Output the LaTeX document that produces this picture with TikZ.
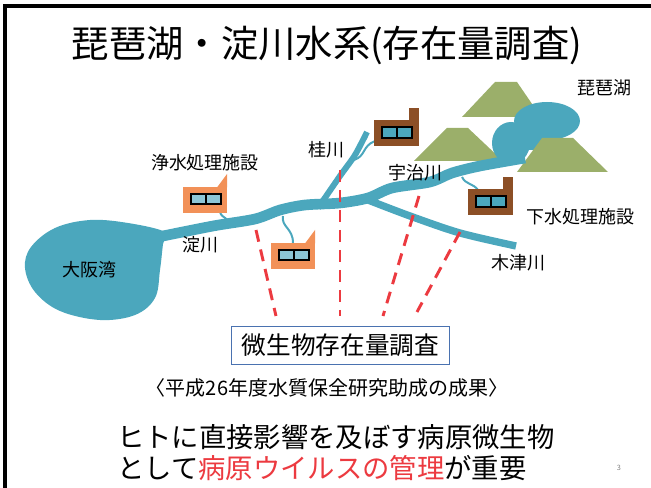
\documentclass[tikz,border=0pt]{standalone}
\usepackage{fontspec}
\setmainfont{Noto Sans CJK JP}
\definecolor{kawa}{HTML}{4BA7BD}
\definecolor{yama}{HTML}{9BAF6A}
\definecolor{daidai}{HTML}{F29158}
\definecolor{chairo}{HTML}{8C4F26}
\definecolor{mado}{HTML}{8DC6D6}
\definecolor{aka}{HTML}{EC3A40}
\definecolor{waku}{HTML}{4A72B0}

\tikzset{
  brownplant/.pic={
    \fill[chairo] (0,0) rectangle (45,26);
    \fill[chairo] (35,0) rectangle (45,-12);
    \draw[fill=kawa, line width=1pt] (8,7) rectangle (23,18);
    \draw[fill=kawa, line width=1pt] (23,7) rectangle (38,18);
  },
  orangeplant/.pic={
    \fill[daidai] (0,0) rectangle (44,26);
    \fill[daidai] (34,0.5) -- (44,-13) -- (44,0.5) -- cycle;
    \draw[fill=mado, line width=1pt] (8,7) rectangle (23,17);
    \draw[fill=mado, line width=1pt] (23,7) rectangle (38,17);
  }
}

\begin{document}
\begin{tikzpicture}[x=0.75pt,y=-0.75pt,
  label/.style={font=\fontsize{13.5}{15}\selectfont},
  river/.style={draw=kawa, line cap=butt, line join=round},
  pipe/.style={draw=kawa, line width=1.5pt},
  mountain/.style={fill=yama},
  survey/.style={draw=aka, line width=2.2pt, dash pattern=on 9pt off 6pt}]
\useasboundingbox (0,0) rectangle (651,488);

% slide frame
\draw[line width=2.3pt] (5,488) -- (5,6) -- (651,6);

\node (title) at (327,45) {\fontsize{28}{32}\selectfont 琵琶湖・淀川水系(存在量調査)};

% mountains behind the lake
\fill[mountain] (462,117) -- (495,82) -- (517,82) -- (541,117) -- cycle;
\fill[mountain] (414,161) -- (447,128) -- (468,128) -- (503,161) -- cycle;

% lake Biwa
\fill[kawa] (547,121) ellipse (33 and 19);
\fill[kawa] (511,143) ellipse (19 and 21);
\fill[kawa] (520,130) rectangle (545,150);
\fill[mountain] (517,172) -- (542,138) -- (573,138) -- (608,172) -- cycle;

% Osaka bay
\fill[kawa] plot[smooth cycle, tension=0.6] coordinates {
  (165,232) (128,223) (90,220) (55,228) (31,247) (25,268) (35,292)
  (60,311) (100,320) (135,315) (155,298) (160,270) (163,244)};

% rivers
\draw[river, line width=5.5pt] plot[smooth] coordinates {
  (368,200) (410,216) (460,233) (516,246)};
\draw[river, line width=4.5pt] plot[smooth] coordinates {
  (318,208) (340,176) (355,155) (367,132)};
\draw[river, line width=8pt] plot[smooth] coordinates {
  (158,237) (213,226) (255,219) (280,210) (305,205) (340,203)
  (368,198) (392,188) (430,182) (452,173) (480,166) (525,158)};

% water pipes
\draw[pipe] (220,212) .. controls (222,219) and (229,217) .. (229,225);
\draw[pipe] (283,216) .. controls (281,227) and (293,228) .. (293,243);
\draw[pipe] (375,141) .. controls (362,146) and (366,156) .. (354,160);
\draw[pipe] (462,177) .. controls (466,185) and (473,183) .. (478,190);

% plants
\pic at (374,120) {brownplant};
\pic at (468,189) {brownplant};
\pic at (183,187) {orangeplant};
\pic at (271,243) {orangeplant};

% place names
\node[label] (biwako) at (604,88) {琵琶湖};
\node[label] (katsura) at (326,150) {桂川};
\node[label] (josui) at (205,163) {浄水処理施設};
\node[label] (uji) at (415,173) {宇治川};
\node[label] (gesui) at (580,217) {下水処理施設};
\node[label] (yodo) at (200,245) {淀川};
\node[label] (kizu) at (518,263) {木津川};
\node[label] (osaka) at (89,270) {大阪湾};

% sampling points and survey box
\node[draw=waku, line width=0.9pt, minimum width=163pt, minimum height=28pt,
  font=\fontsize{18.5}{20}\selectfont] (chosa) at (340.5,345.5) {微生物存在量調査};
\coordinate (s1) at (256,230);
\coordinate (s2) at (340,170);
\coordinate (s3) at (419,196);
\coordinate (s4) at (460,232);
\coordinate (e1) at (276,316);
\coordinate (e2) at (340,316);
\coordinate (e3) at (383,316);
\coordinate (e4) at (417,312);
\foreach \i in {1,...,4}
  \draw[survey] (s\i) -- (e\i);

\node[font=\fontsize{15}{17}\selectfont] (seika) at (327,388)
  {〈平成26年度水質保全研究助成の成果〉};

\node[anchor=west, inner sep=0pt, font=\fontsize{20.5}{22}\selectfont] (line1) at (117,437)
  {ヒトに直接影響を及ぼす病原微生物};
\node[anchor=west, inner sep=0pt, font=\fontsize{20.5}{22}\selectfont] (line2) at (117,468)
  {として\textcolor{aka}{病原ウイルスの管理}が重要};

\node[text=gray, font=\fontsize{5.5}{6}\selectfont] (page) at (619,468) {3};
\end{tikzpicture}
\end{document}
